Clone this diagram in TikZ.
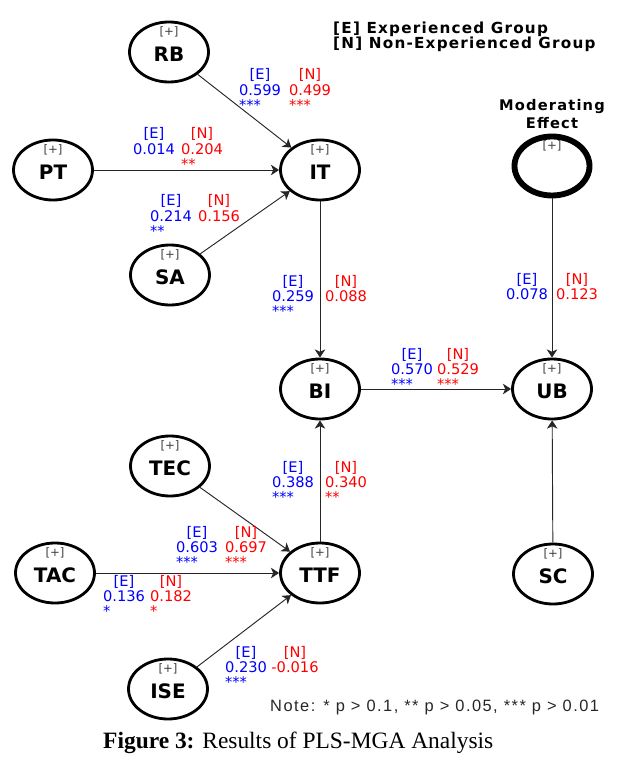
\documentclass[tikz,border=0pt]{standalone}
\usepackage{fontspec}
\setmainfont{DejaVu Sans}
\newfontfamily\legendfont[LetterSpace=8]{DejaVu Sans}
\newfontfamily\notefont[LetterSpace=9]{Liberation Sans}
\newfontfamily\captionfont{Liberation Serif}
\usetikzlibrary{shapes.geometric, arrows.meta}

% group label, path coefficient, significance stars
\newcommand{\grp}[3]{\begin{tabular}[t]{@{}c@{}}#1\\#2\\#3\hfill\mbox{}\end{tabular}}

\tikzset{
  construct/.style={ellipse, draw, line width=2.4pt, minimum width=2.37cm, minimum height=1.8cm,
    inner sep=0pt, font=\fontsize{17}{17}\selectfont\bfseries, text height=16.5pt, text depth=0pt},
  tag/.style={inner sep=0pt, text=black!75, font=\fontsize{10}{10}\selectfont},
  expgrp/.style={anchor=base, inner sep=0pt, text=blue, font=\fontsize{12.5}{12}\selectfont},
  nongrp/.style={expgrp, text=red},
  effect/.style={->, line width=0.8pt, draw=black!85},
}

\begin{document}
\begin{tikzpicture}[x=0.03cm, y=-0.03cm, >={Stealth[length=7pt, width=9pt, inset=2pt]}]
  \useasboundingbox (0,0) rectangle (633,767);

  % constructs
  \node[construct] (RB)  at (169,52)  {RB};
  \node[construct] (PT)  at (53,170)  {PT};
  \node[construct] (IT)  at (320,170) {IT};
  \node[construct] (SA)  at (170,275) {SA};
  \node[construct] (BI)  at (320,389) {BI};
  \node[construct] (UB)  at (552,389) {UB};
  \node[construct] (TEC) at (170,466) {TEC};
  \node[construct] (TAC) at (55,573)  {TAC};
  \node[construct] (TTF) at (320,573) {TTF};
  \node[construct] (ISE) at (168,689) {ISE};
  \node[construct] (SC)  at (553,574) {SC};
  \node[construct, line width=5pt, minimum width=2.25cm, minimum height=1.77cm] (ME) at (552,166) {};

  \foreach \n in {RB,PT,IT,SA,BI,UB,TEC,TAC,TTF,ISE,SC,ME}
    \node[tag] (\n-tag) at ([yshift=0.6cm]\n.center) {[+]};

  \node[anchor=base, inner sep=0pt, font=\legendfont\fontsize{12.5}{12.5}\selectfont\bfseries] (mod-1) at (552,111) {Moderating};
  \node[anchor=base, inner sep=0pt, font=\legendfont\fontsize{12.5}{12.5}\selectfont\bfseries] (mod-2) at (552,129) {Effect};

  % paths
  \foreach \a/\b in {RB/IT, PT/IT, SA/IT, IT/BI, TTF/BI, TEC/TTF, TAC/TTF, ISE/TTF, BI/UB, ME/UB, SC/UB}
    \draw[effect] (\a) -- (\b);

  % coefficients
  \foreach \x/\y/\v/\s [count=\i] in {260/80/0.599/***, 154/139/0.014/{}, 171/206/0.214/**,
      293/286/0.259/***, 412/359/0.570/***, 527/284/0.078/{}, 293/472/0.388/***,
      197/537/0.603/***, 124/586/0.136/*, 246/657/0.230/***}
    \node[expgrp] (exp-\i) at (\x,\y) {\grp{[E]}{\v}{\s}};
  \foreach \x/\y/\v/\s [count=\i] in {310/80/0.499/***, 202/139/0.204/**, 219/206/0.156/{},
      346/286/0.088/{}, 458/359/0.529/***, 577/284/0.123/{}, 346/472/0.340/**,
      246/537/0.697/***, 171/586/0.182/*, 295/657/-0.016/{}}
    \node[nongrp] (non-\i) at (\x,\y) {\grp{[N]}{\v}{\s}};

  % legend, note, caption
  \node[anchor=base west, inner sep=0pt, font=\legendfont\fontsize{13}{13}\selectfont\bfseries] (leg-E) at (333,34) {[E] Experienced Group};
  \node[anchor=base west, inner sep=0pt, font=\legendfont\fontsize{13}{13}\selectfont\bfseries] (leg-N) at (333,49) {[N] Non-Experienced Group};
  \node[anchor=base west, inner sep=0pt, text=black!85, font=\notefont\fontsize{14}{14}\selectfont] (note) at (270,711) {Note: * p > 0.1, ** p > 0.05, *** p > 0.01};
  \node[anchor=base west, inner sep=0pt, font=\captionfont\fontsize{20}{20}\selectfont] (caption) at (103,748) {\textbf{Figure 3:} Results of PLS-MGA Analysis};
\end{tikzpicture}
\end{document}
